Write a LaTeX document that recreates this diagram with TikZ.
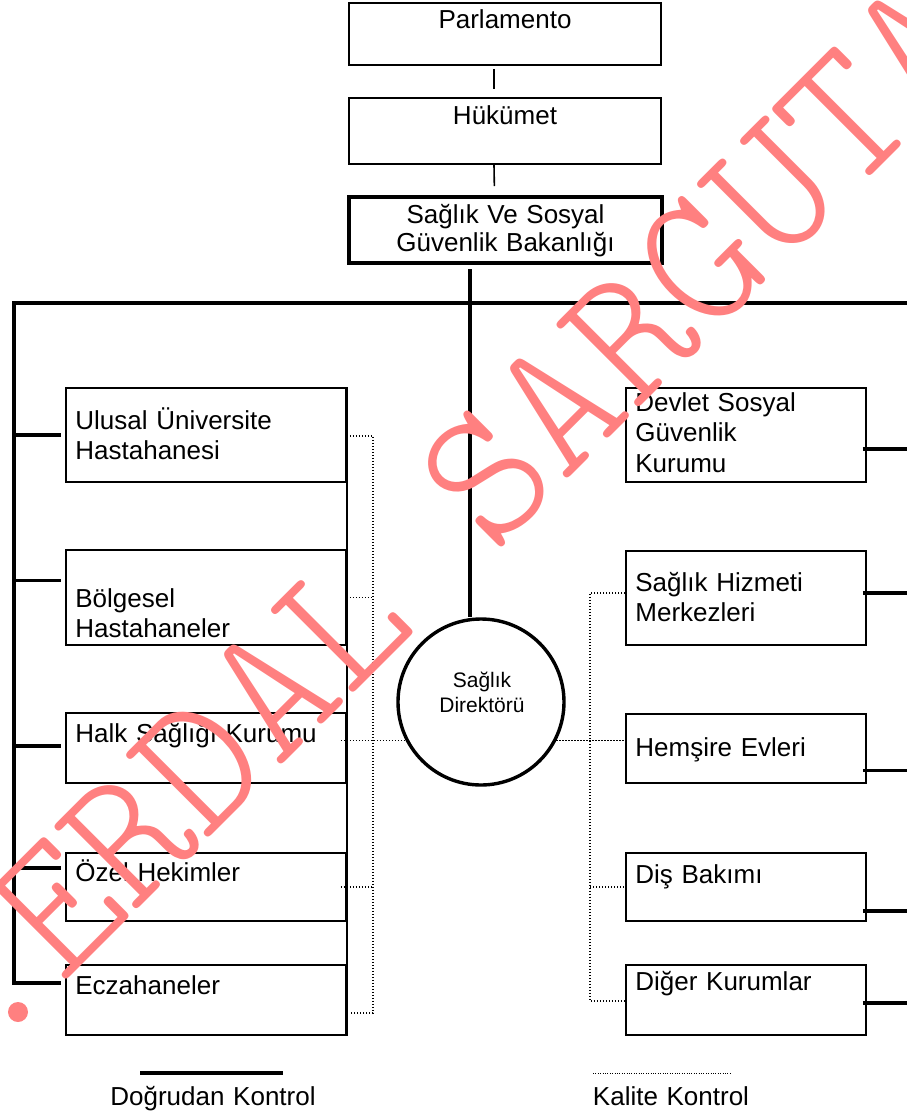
\documentclass[tikz,border=0pt]{standalone}
\usepackage{fontspec}
\setmainfont{Liberation Sans}
\definecolor{wmpink}{RGB}{255,128,128}

\begin{document}
\begin{tikzpicture}[x=1pt,y=-1pt,
  box/.style={draw,line width=1.6pt,inner sep=0pt},
  lbox/.style={box,minimum width=280pt},
  rbox/.style={box,minimum width=240pt},
  txt/.style={inner sep=0pt,anchor=base west,align=left,text width=300pt,
    font=\fontsize{26}{30.5}\selectfont},
  ctxt/.style={txt,anchor=base,align=center,text width=300pt},
  direct/.style={line width=3.4pt},
  quality/.style={line width=1.2pt,dash pattern=on 1.2pt off 1.8pt},
  wmark/.style={text=wmpink,inner sep=0pt,anchor=base west,rotate=45,
    font=\fontsize{193}{193}\ttfamily\fontseries{l}\selectfont}]

\useasboundingbox (0,0) rectangle (907,1112);

% top chain
\node[box,minimum width=312pt,minimum height=62pt] (parl) at (505,34) {};
\node[box,minimum width=312pt,minimum height=66pt] (huk) at (505,131) {};
\node[box,line width=4pt,minimum width=313pt,minimum height=66pt] (bak) at (505.5,230) {};
\node[ctxt] (parl-t) at ([shift={(0,26)}]parl.north) {Parlamento};
\node[ctxt] (huk-t) at ([shift={(0,27)}]huk.north) {Hükümet};
\node[ctxt,font=\fontsize{26}{28}\selectfont] (bak-t) at ([shift={(0,28)}]bak.north)
  {Sağlık Ve Sosyal\\Güvenlik Bakanlığı};

% left column
\node[lbox,minimum height=94pt] (ulusal) at (206,435) {};
\node[lbox,minimum height=95pt] (bolge) at (206,597.5) {};
\node[lbox,minimum height=70pt] (halk) at (206,748) {};
\node[lbox,minimum height=68pt] (ozel) at (206,887) {};
\node[lbox,minimum height=70pt] (eczane) at (206,1000) {};
\node[txt] (ulusal-t) at ([shift={(10,42)}]ulusal.north west) {Ulusal Üniversite\\Hastahanesi};
\node[txt] (bolge-t) at ([shift={(10,58)}]bolge.north west) {Bölgesel\\Hastahaneler};
\node[txt] (halk-t) at ([shift={(10,30)}]halk.north west) {Halk Sağlığı Kurumu};
\node[txt] (ozel-t) at ([shift={(10,29)}]ozel.north west) {Özel Hekimler};
\node[txt] (eczane-t) at ([shift={(10,30)}]eczane.north west) {Eczahaneler};
\draw[line width=1.6pt] (ulusal.north east) -- (eczane.south east);

% right column
\node[rbox,minimum height=94pt] (sgk) at (746,435) {};
\node[rbox,minimum height=94pt] (merkez) at (746,598) {};
\node[rbox,minimum height=69pt] (hemsire) at (746,748.5) {};
\node[rbox,minimum height=68pt] (dis) at (746,887) {};
\node[rbox,minimum height=70pt] (diger) at (746,1000) {};
\node[txt] (sgk-t) at ([shift={(10,24)}]sgk.north west) {Devlet Sosyal\\Güvenlik\\Kurumu};
\node[txt] (merkez-t) at ([shift={(10,41)}]merkez.north west) {Sağlık Hizmeti\\Merkezleri};
\node[txt] (hemsire-t) at ([shift={(10,43)}]hemsire.north west) {Hemşire Evleri};
\node[txt] (dis-t) at ([shift={(10,31)}]dis.north west) {Diş Bakımı};
\node[txt] (diger-t) at ([shift={(10,26)}]diger.north west) {Diğer Kurumlar};

% director
\node[circle,draw,line width=3.4pt,minimum size=166pt,inner sep=0pt] (direktor) at (481,702) {};
\node[ctxt,font=\fontsize{21}{25}\selectfont] (direktor-t) at ([shift={(1,-15)}]direktor.center)
  {Sağlık\\Direktörü};

% direct control
\coordinate (lbus) at (14,303);
\coordinate (rbus) at (907,303);
\draw[line width=1.6pt,shorten <=3pt,shorten >=8pt] ([xshift=-11pt]parl.south) -- ([xshift=-11pt]huk.north);
\draw[line width=1.6pt,shorten >=9pt] ([xshift=-11pt]huk.south) -- ([xshift=-11pt]bak.north);
\draw[direct,shorten <=4pt] ([xshift=-35.5pt]bak.south) -- ([xshift=-11pt]direktor.north);
\draw[direct] (rbus) -- (lbus) |- ([xshift=-4pt,yshift=17pt]eczane.west);
\draw[direct] (lbus |- ulusal.west) -- ([xshift=-4pt]ulusal.west);
\draw[direct] (lbus |- bolge.west) ++(0,-17) -- ([xshift=-4pt,yshift=17pt]bolge.west);
\draw[direct] (lbus |- halk.west) ++(0,-2) -- ([xshift=-4pt,yshift=2pt]halk.west);
\draw[direct] (lbus |- ozel.west) ++(0,-19) -- ([xshift=-4pt,yshift=19pt]ozel.west);
\draw[direct] ([xshift=-4pt,yshift=-14pt]sgk.east) -- ([yshift=-14pt]sgk.east -| rbus);
\draw[direct] ([xshift=-4pt,yshift=5pt]merkez.east) -- ([yshift=5pt]merkez.east -| rbus);
\draw[direct] ([xshift=-4pt,yshift=-22pt]hemsire.east) -- ([yshift=-22pt]hemsire.east -| rbus);
\draw[direct] ([xshift=-4pt,yshift=-24pt]dis.east) -- ([yshift=-24pt]dis.east -| rbus);
\draw[direct] ([xshift=-4pt,yshift=-3pt]diger.east) -- ([yshift=-3pt]diger.east -| rbus);

% quality control
\coordinate (lq-top) at (373,436);
\coordinate (lq-bot) at (373,1013);
\coordinate (rq-top) at (590,593);
\coordinate (rq-bot) at (590,1001);
\draw[quality] (ulusal.east |- lq-top) -- (lq-top) -- (lq-bot) -- ([xshift=4pt]eczane.east |- lq-bot);
\draw[quality] (bolge.east) -- (bolge.east -| lq-top);
\draw[quality] ([xshift=-6pt]halk.east |- direktor.207) -- (direktor.207);
\draw[quality] ([xshift=-6pt]ozel.east) -- (ozel.east -| lq-top);
\draw[quality] ([yshift=5pt]merkez.west) -- (rq-top) -- (rq-bot) -- (diger.west |- rq-bot);
\draw[quality] (direktor.-27) -- (hemsire.west |- direktor.-27);
\draw[quality] (dis.west -| rq-top) -- (dis.west);

% legend
\coordinate (dk-a) at (140,1073);
\coordinate (dk-b) at (283,1073);
\coordinate (kk-a) at (593,1073);
\coordinate (kk-b) at (731,1073);
\draw[line width=4pt] (dk-a) -- (dk-b);
\draw[line width=0.9pt,dash pattern=on 0.9pt off 1.5pt] (kk-a) -- (kk-b);
\node[ctxt] (dk) at (213,1105) {Doğrudan Kontrol};
\node[ctxt] (kk) at (671,1105) {Kalite Kontrol};

% watermark
\node[wmark] (wm) at (62,985) {ERDAL SARGUTAN};
\fill[wmpink] (18,1012) circle (10);
\end{tikzpicture}
\end{document}
